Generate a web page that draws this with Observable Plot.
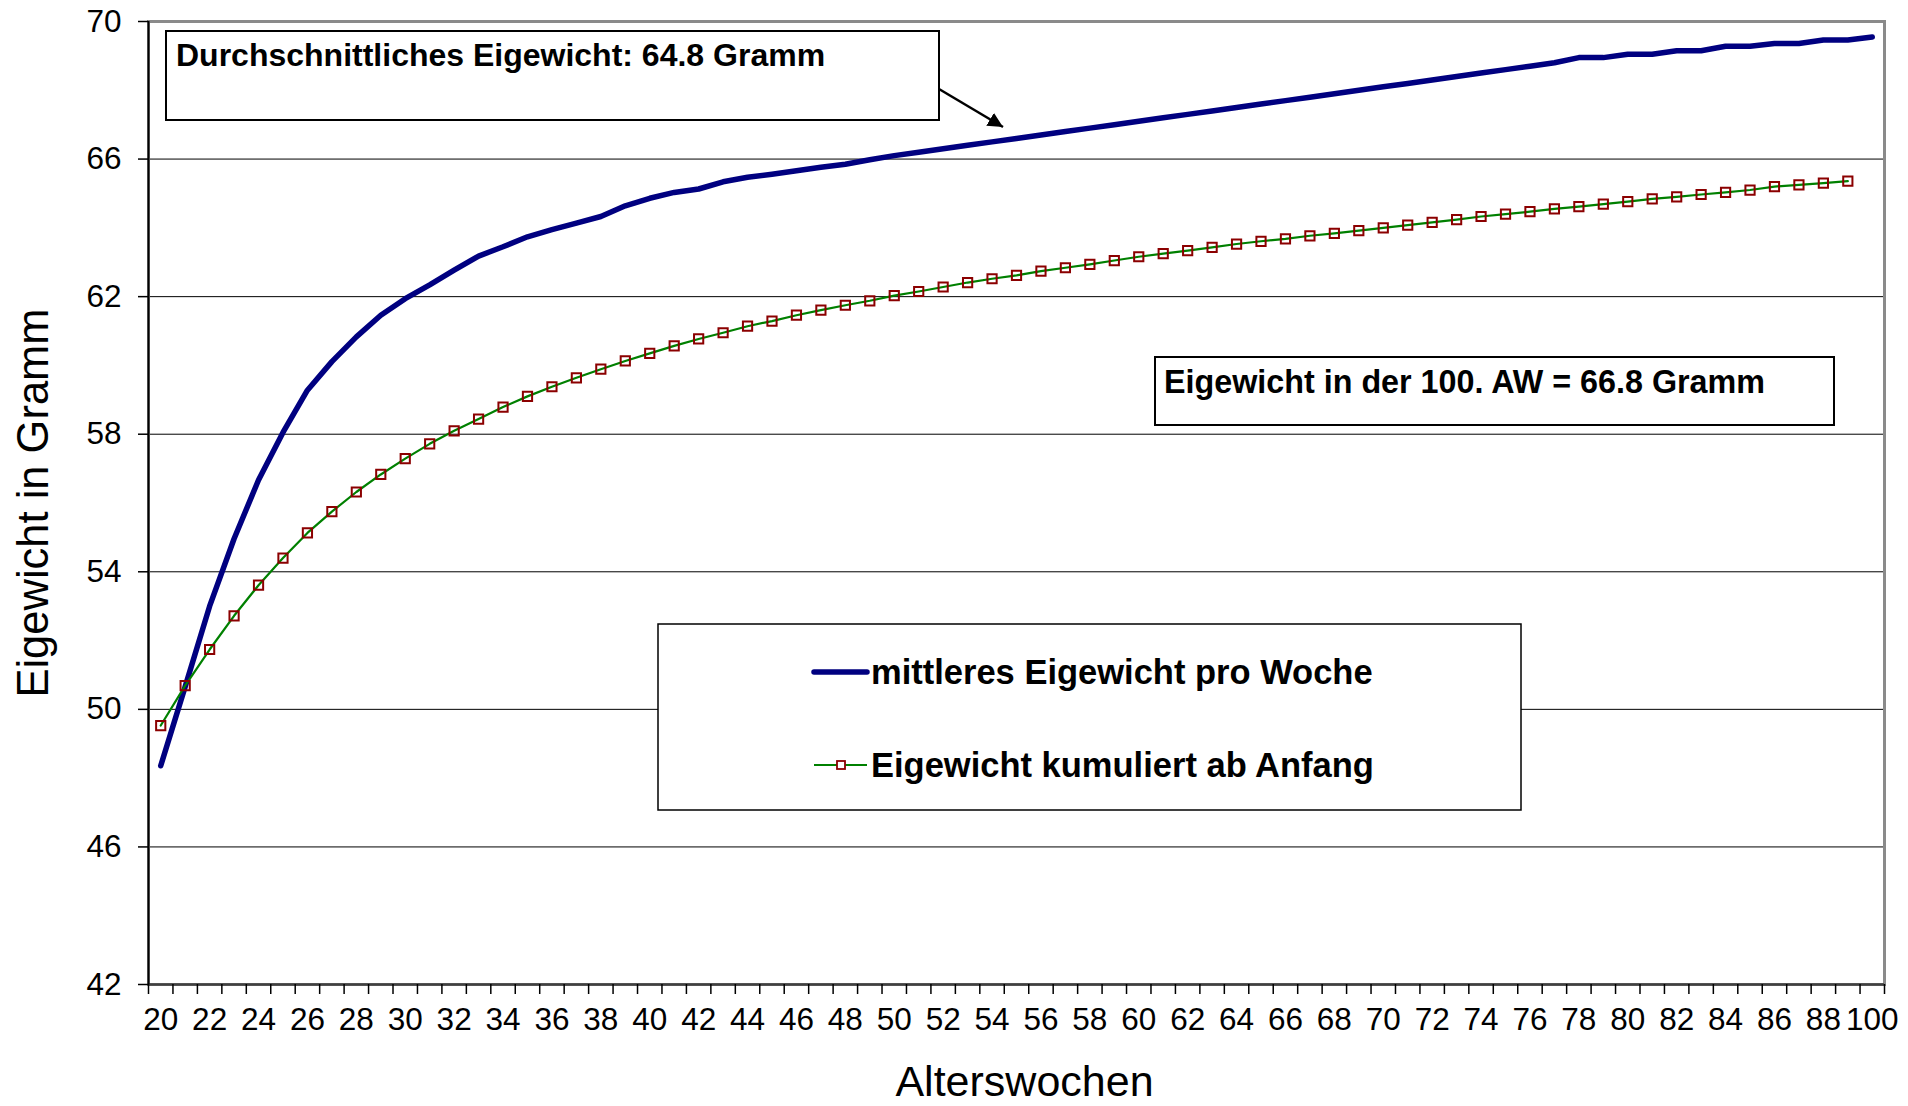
<!DOCTYPE html>
<html>
<head>
<meta charset="utf-8">
<script src="https://cdn.jsdelivr.net/npm/d3@7"></script>
<script src="https://cdn.jsdelivr.net/npm/@observablehq/plot@0.6"></script>
<style>
  html, body { margin: 0; padding: 0; background: #fff; }
  #wrap { position: relative; width: 1908px; height: 1106px; font-family: "Liberation Sans", Arial, sans-serif; }
  #overlay { position: absolute; left: 0; top: 0; pointer-events: none; }
</style>
</head>
<body>
<div id="wrap"></div>
<script>
// ---- data ----
const weeks = [20,21,22,23,24,25,26,27,28,29,30,31,32,33,34,35,36,37,38,39,
  40,41,42,43,44,45,46,47,48,49,50,51,52,53,54,55,56,57,58,59,
  60,61,62,63,64,65,66,67,68,69,70,71,72,73,74,75,76,77,78,79,
  80,81,82,83,84,85,86,87,88,89,100];

// mittleres Eigewicht pro Woche (g)
const meanWeight = [48.36,50.66,53.00,54.96,56.67,58.05,59.28,60.11,60.83,61.46,
  61.94,62.34,62.77,63.18,63.45,63.74,63.95,64.14,64.33,64.64,
  64.86,65.03,65.13,65.34,65.47,65.56,65.66,65.76,65.85,65.98,
  66.10,66.20,66.30,66.40,66.50,66.60,66.70,66.80,66.90,67.00,
  67.10,67.20,67.30,67.40,67.50,67.60,67.70,67.80,67.90,68.00,
  68.10,68.20,68.30,68.40,68.50,68.60,68.70,68.80,68.95,68.95,
  69.05,69.05,69.15,69.15,69.28,69.28,69.36,69.36,69.46,69.46,69.55];

// Eigewicht kumuliert ab Anfang (g)
const cumWeight = [49.53,50.69,51.74,52.72,53.61,54.40,55.13,55.75,56.32,56.83,
  57.29,57.72,58.10,58.44,58.79,59.10,59.38,59.64,59.89,60.13,
  60.35,60.57,60.77,60.95,61.14,61.29,61.46,61.61,61.75,61.88,
  62.03,62.15,62.28,62.41,62.52,62.62,62.74,62.84,62.94,63.05,
  63.16,63.25,63.34,63.43,63.53,63.61,63.68,63.77,63.84,63.92,
  64.00,64.08,64.16,64.24,64.33,64.40,64.47,64.55,64.62,64.69,
  64.76,64.84,64.90,64.97,65.03,65.10,65.20,65.25,65.30,65.36];

const yTicks = [42,46,50,54,58,62,66,70];
const seriesNames = ["mittleres Eigewicht pro Woche", "Eigewicht kumuliert ab Anfang"];
const xTitle = "Alterswochen";
const yTitle = "Eigewicht in Gramm";
const note1 = "Durchschnittliches Eigewicht: 64.8 Gramm";
const note2 = "Eigewicht in der 100. AW = 66.8 Gramm";

// ---- tables ----
const meanData = meanWeight.map((v, i) => ({i, week: weeks[i], v}));
const cumData = cumWeight.map((v, i) => ({i, week: weeks[i], v}));
const boundaries = d3.range(weeks.length + 1).map(i => i - 0.5);
const labelIdx = d3.range(0, weeks.length, 2);

const FONT = "'Liberation Sans', Arial, sans-serif";

const chart = Plot.plot({
  width: 1908,
  height: 1106,
  marginLeft: 148,
  marginRight: 24,
  marginTop: 21,
  marginBottom: 122,
  style: {fontFamily: FONT, color: "#000", background: "#fff"},
  x: {type: "linear", domain: [-0.5, weeks.length - 0.5]},
  y: {type: "linear", domain: [42, 70]},
  marks: [
    Plot.gridY(yTicks, {stroke: "#000", strokeOpacity: 1, strokeWidth: 1}),
    Plot.frame({stroke: "#8a8a8a", strokeWidth: 3}),
    Plot.ruleY([42], {stroke: "#404040", strokeWidth: 2.5}),
    Plot.ruleX([-0.5], {stroke: "#000", strokeWidth: 2}),
    Plot.axisY(yTicks, {tickSize: 10, tickPadding: 17, fontSize: 31.5, label: null, strokeWidth: 1.5}),
    Plot.axisX(boundaries, {tickSize: 10, tickFormat: () => "", label: null, strokeWidth: 1.5}),
    Plot.axisX(labelIdx, {tickSize: 0, tickPadding: 23, tickFormat: i => String(weeks[i]), fontSize: 31.5, label: null}),
    Plot.line(meanData, {x: "i", y: "v", stroke: "#000080", strokeWidth: 5.5, strokeLinejoin: "round", strokeLinecap: "round"}),
    Plot.line(cumData, {x: "i", y: "v", stroke: "#008000", strokeWidth: 2.2}),
    Plot.dot(cumData, {x: "i", y: "v", symbol: "square", r: 5.2, stroke: "#8b0000", strokeWidth: 2, fill: "none"}),
    Plot.text([yTitle], {frameAnchor: "left", dx: -114, rotate: -90, fontSize: 43.5, textAnchor: "middle"}),
    Plot.text([xTitle], {frameAnchor: "bottom", dx: 8, dy: 111, fontSize: 43, lineAnchor: "bottom"})
  ]
});

const wrap = document.getElementById("wrap");
wrap.appendChild(chart);

// ---- overlay: annotation boxes, arrow, legend ----
const ov = d3.select(wrap).append("svg")
  .attr("id", "overlay").attr("width", 1908).attr("height", 1106)
  .style("font-family", FONT);

ov.append("defs").append("marker")
  .attr("id", "ah").attr("viewBox", "0 0 10 10").attr("refX", 10).attr("refY", 5)
  .attr("markerWidth", 6).attr("markerHeight", 6).attr("markerUnits", "strokeWidth")
  .attr("orient", "auto")
  .append("path").attr("d", "M0,0 L10,5 L0,10 Z").attr("fill", "#000");

// box 1
ov.append("rect").attr("x", 166).attr("y", 31).attr("width", 773).attr("height", 89)
  .attr("fill", "#fff").attr("stroke", "#000").attr("stroke-width", 2);
ov.append("text").attr("x", 176).attr("y", 66).attr("font-size", 32).attr("font-weight", "bold")
  .text(note1);
ov.append("line").attr("x1", 939).attr("y1", 89).attr("x2", 1003).attr("y2", 127)
  .attr("stroke", "#000").attr("stroke-width", 2.5).attr("marker-end", "url(#ah)");

// box 2
ov.append("rect").attr("x", 1155).attr("y", 357).attr("width", 679).attr("height", 68)
  .attr("fill", "#fff").attr("stroke", "#000").attr("stroke-width", 2);
ov.append("text").attr("x", 1164).attr("y", 393).attr("font-size", 32.3).attr("font-weight", "bold")
  .text(note2);

// legend
ov.append("rect").attr("x", 658).attr("y", 624).attr("width", 863).attr("height", 186)
  .attr("fill", "#fff").attr("stroke", "#000").attr("stroke-width", 1.5);
ov.append("line").attr("x1", 814).attr("x2", 867).attr("y1", 672).attr("y2", 672)
  .attr("stroke", "#000080").attr("stroke-width", 5.5).attr("stroke-linecap", "round");
ov.append("text").attr("x", 871).attr("y", 684).attr("font-size", 34.5).attr("font-weight", "bold")
  .text(seriesNames[0]);
ov.append("line").attr("x1", 814).attr("x2", 867).attr("y1", 765).attr("y2", 765)
  .attr("stroke", "#008000").attr("stroke-width", 2.2);
ov.append("rect").attr("x", 837).attr("y", 761).attr("width", 8).attr("height", 8)
  .attr("fill", "#fff").attr("stroke", "#8b0000").attr("stroke-width", 1.8);
ov.append("text").attr("x", 871).attr("y", 777).attr("font-size", 34.5).attr("font-weight", "bold")
  .text(seriesNames[1]);
</script>
</body>
</html>
